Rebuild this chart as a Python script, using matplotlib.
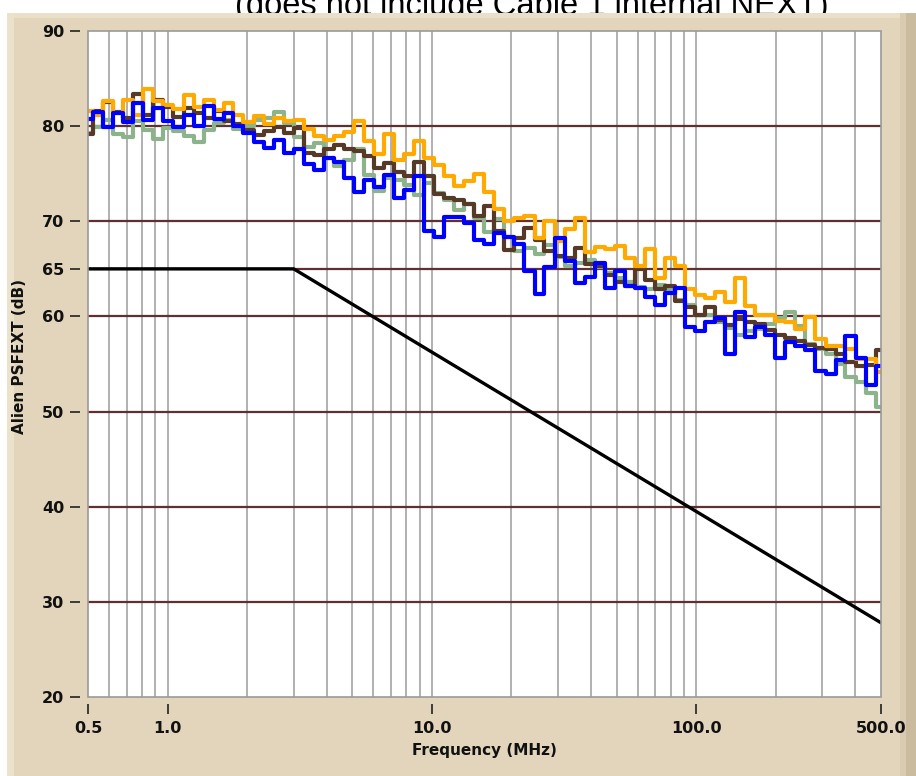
import matplotlib
matplotlib.use('Agg')
import matplotlib.pyplot as plt
from matplotlib.patches import Rectangle
from matplotlib.ticker import FixedLocator, NullLocator

# frequency points (MHz)
freq = [0.5, 0.546, 0.595, 0.65, 0.709, 0.774, 0.845, 0.922, 1.0, 1.1,
        1.2, 1.31, 1.43, 1.56, 1.7, 1.85, 2.02, 2.21, 2.41, 2.63,
        2.87, 3.13, 3.42, 3.73, 4.07, 4.44, 4.85, 5.29, 5.77, 6.3,
        6.87, 7.5, 8.19, 8.93, 9.75, 10.6, 11.6, 12.7, 13.8, 15.1,
        16.5, 18.0, 19.6, 21.4, 23.4, 25.5, 27.8, 30.4, 33.1, 36.2,
        39.5, 43.1, 47.0, 51.3, 56.0, 61.1, 66.7, 72.8, 79.4, 86.7,
        94.6, 103, 113, 123, 134, 146, 160, 174, 190, 208,
        227, 247, 270, 295, 322, 351, 383, 418, 456, 500]

orange = [81.6, 81.2, 82.6, 81.4, 82.8, 81.2, 83.9, 82.6, 82.2, 81.8,
          83.3, 82.0, 82.8, 81.7, 82.4, 81.2, 80.4, 81.1, 80.2, 80.9,
          80.5, 80.6, 79.7, 79.0, 78.5, 79.0, 79.4, 80.5, 78.4, 77.1,
          79.2, 76.4, 77.1, 78.4, 76.6, 75.9, 74.8, 73.7, 74.2, 75.0,
          73.1, 71.3, 70.0, 70.3, 70.6, 68.2, 70.0, 67.9, 69.2, 70.3,
          66.8, 67.3, 67.1, 67.4, 66.1, 65.3, 67.1, 64.0, 66.1, 65.3,
          62.9, 62.2, 61.9, 62.6, 61.5, 64.0, 61.1, 60.1, 60.1, 59.5,
          59.4, 58.7, 59.9, 57.6, 56.9, 56.9, 56.6, 55.5, 55.5, 54.2]

brown = [79.2, 81.6, 82.5, 81.5, 80.9, 83.4, 81.2, 82.8, 82.0, 81.0,
         81.9, 81.4, 80.9, 81.6, 80.5, 80.2, 79.6, 79.1, 79.5, 79.9,
         79.3, 79.8, 77.2, 77.0, 77.6, 78.0, 77.6, 77.4, 76.9, 75.6,
         76.1, 75.2, 74.8, 76.2, 74.8, 72.9, 72.4, 72.2, 71.8, 70.6,
         71.6, 69.0, 67.0, 68.2, 69.3, 68.0, 66.9, 66.4, 66.1, 67.2,
         65.5, 65.3, 64.4, 63.6, 63.2, 65.0, 63.8, 62.9, 63.2, 61.6,
         61.0, 60.2, 61.0, 59.6, 59.1, 59.7, 59.4, 59.2, 58.6, 58.0,
         57.7, 57.4, 57.0, 56.7, 56.6, 56.0, 55.2, 54.8, 54.9, 56.5]

green = [79.3, 79.9, 80.6, 79.2, 78.9, 80.5, 79.6, 78.6, 79.8, 79.5,
         79.0, 78.3, 79.6, 80.3, 80.6, 79.7, 80.0, 80.6, 80.9, 81.5,
         80.3, 78.9, 77.8, 78.2, 76.7, 75.8, 76.4, 77.6, 74.9, 73.2,
         74.6, 74.3, 73.8, 72.8, 74.0, 73.0, 72.2, 71.2, 71.8, 70.3,
         68.9, 70.2, 68.4, 66.9, 67.2, 66.6, 67.5, 66.2, 65.3, 65.6,
         65.9, 65.2, 64.6, 64.0, 63.6, 63.1, 62.9, 63.3, 62.8, 61.7,
         61.2, 60.2, 60.1, 59.4, 58.8, 58.1, 58.5, 58.7, 59.2, 59.8,
         60.5, 59.0, 57.1, 56.6, 56.0, 55.0, 53.6, 53.1, 52.0, 50.5]

blue = [80.8, 81.5, 79.9, 81.4, 80.4, 82.4, 80.6, 81.9, 80.5, 79.9,
        81.2, 80.0, 82.1, 80.8, 81.4, 80.0, 79.3, 78.3, 77.7, 78.5,
        77.2, 77.6, 76.0, 75.4, 76.7, 76.2, 74.5, 73.1, 74.3, 73.6,
        74.9, 72.4, 73.3, 74.8, 69.0, 68.3, 70.4, 70.5, 69.8, 68.0,
        67.6, 68.8, 68.4, 67.6, 64.8, 62.4, 65.2, 68.2, 65.8, 63.5,
        64.1, 65.6, 63.0, 64.8, 63.2, 63.0, 62.0, 61.2, 62.5, 63.0,
        58.9, 58.5, 59.4, 59.8, 56.0, 60.5, 57.8, 58.9, 58.1, 55.6,
        57.3, 56.9, 56.5, 54.3, 54.0, 55.4, 57.9, 55.6, 52.8, 54.8]

# limit line
limit_freq = [0.5, 3.0, 500.0]
limit_db = [65.0, 65.0, 27.8]

x_ticks = [0.5, 1.0, 10.0, 100.0, 500.0]
x_labels = ['0.5', '1.0', '10.0', '100.0', '500.0']
y_ticks = [20, 30, 40, 50, 60, 65, 70, 80, 90]
y_grid = [30, 40, 50, 60, 65, 70, 80]

W, H = 916, 776
fig = plt.figure(figsize=(W / 100, H / 100), dpi=100, facecolor='white')


def frect(x0, y0, x1, y1, color):
    # rectangle in pixel coords (from top-left), behind the axes
    fig.patches.append(Rectangle((x0 / W, 1 - y1 / H), (x1 - x0) / W, (y1 - y0) / H,
                                 transform=fig.transFigure, facecolor=color,
                                 edgecolor='none', zorder=-10))


# title sits behind the panel, only its lower part shows
fig.text(532 / W, 1 - 15 / H, '(does not include Cable 1 internal NEXT)', fontsize=23.5,
         family='Liberation Sans', ha='center', va='baseline', color='black', zorder=-20)

# beige panel
frect(7, 13, W, H, '#e2d5bb')
frect(7, 13, W, 18, '#eae0c8')
frect(7, 13, 14, H, '#ece2cc')
frect(900, 13, 906, H, '#d9cbb0')
frect(906, 13, W, H, '#cbbb9e')

ax = fig.add_axes([88 / W, 1 - 697 / H, (881 - 88) / W, (697 - 31) / H])
ax.set_zorder(1)
ax.set_facecolor('white')
ax.set_xscale('log')
ax.set_xlim(0.5, 500)
ax.set_ylim(20, 90)

# vertical grid at 1..9 of each decade
for e in (-1, 0, 1, 2):
    for m in range(1, 10):
        v = m * 10.0 ** e
        if 0.5 < v < 500:
            ax.axvline(v, color='#a3a3a3', lw=1.2, zorder=1)
for v in y_grid:
    ax.axhline(v, color='#5e3030', lw=1.6, zorder=2)

ax.plot(freq, green, color='#8db38d', lw=3.0, drawstyle='steps-mid', zorder=3)
ax.plot(freq, brown, color='#553a28', lw=3.0, drawstyle='steps-mid', zorder=4)
ax.plot(freq, orange, color='#ffaa00', lw=3.0, drawstyle='steps-mid', zorder=5)
ax.plot(freq, blue, color='#0000ff', lw=3.0, drawstyle='steps-mid', zorder=6)
ax.plot(limit_freq, limit_db, color='black', lw=2.4, zorder=7)

ax.add_patch(Rectangle((0, 0), 1, 1, transform=ax.transAxes, fill=False,
                       edgecolor='#9a9a9a', lw=1.2, zorder=8, clip_on=False))

ax.xaxis.set_major_locator(FixedLocator(x_ticks))
ax.xaxis.set_minor_locator(NullLocator())
ax.set_xticklabels(x_labels)
ax.set_yticks(y_ticks)
ax.set_yticklabels([str(v) for v in y_ticks])

for s in ax.spines.values():
    s.set_visible(False)
ax.spines['left'].set_position(('outward', 6))
ax.spines['bottom'].set_position(('outward', 5))
ax.tick_params(axis='y', direction='out', length=7, width=1.2, color='#222222', pad=4,
               labelsize=11.5)
ax.tick_params(axis='x', direction='out', length=7, width=1.2, color='#222222', pad=5,
               labelsize=11.5)
for lab in ax.get_xticklabels() + ax.get_yticklabels():
    lab.set_fontweight('bold')
    lab.set_color('#111111')

fig.text(484 / W, 1 - 750 / H, 'Frequency (MHz)', fontsize=11, fontweight='bold',
         ha='center', va='center', color='#111111')
fig.text(20 / W, 1 - 357 / H, 'Alien PSFEXT (dB)', fontsize=11, fontweight='bold',
         rotation=90, ha='center', va='center', color='#111111')

fig.savefig('out.png', dpi=100, facecolor='white')
